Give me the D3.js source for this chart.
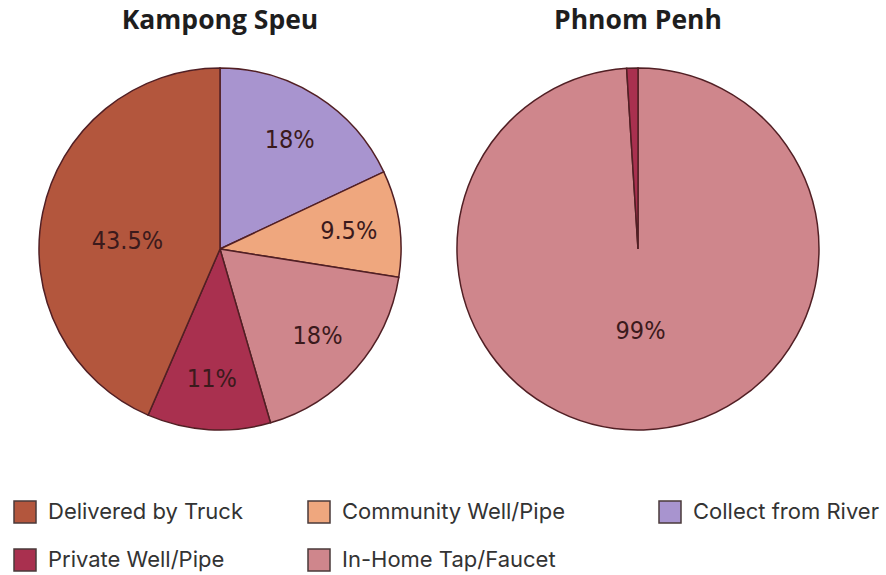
<!DOCTYPE html>
<html>
<head>
<meta charset="utf-8">
<script src="https://cdn.jsdelivr.net/npm/d3@7"></script>
<style>
  body { margin: 0; background: #fff; }
  svg { display: block; }
</style>
</head>
<body>
<div id="chart"></div>
<script>
// categories and values
var categories = ["Collect from River", "Community Well/Pipe", "In-Home Tap/Faucet", "Private Well/Pipe", "Delivered by Truck"];
var kampongSpeu = [18, 9.5, 18, 11, 43.5];
var phnomPenh = [0, 0, 99, 1, 0];
var places = ["Kampong Speu", "Phnom Penh"];
var legendOrder = ["Delivered by Truck", "Community Well/Pipe", "Collect from River", "Private Well/Pipe", "In-Home Tap/Faucet"];

var colour = d3.scaleOrdinal()
  .domain(categories)
  .range(["#a894cf", "#efa77e", "#cf868c", "#a9304f", "#b3563d"]);

var svg = d3.select("#chart").append("svg")
  .attr("width", 886)
  .attr("height", 575);

var radius = 181;
var centres = [[220, 249], [638, 249]];
var allData = [kampongSpeu, phnomPenh];

var pie = d3.pie().sort(null).value(function(d) { return d.v; });
var arc = d3.arc().innerRadius(0).outerRadius(radius);

allData.forEach(function(values, i) {
  var rows = categories.map(function(c, k) { return { cat: c, v: values[k] }; })
    .filter(function(d) { return d.v > 0; });
  var g = svg.append("g")
    .attr("transform", "translate(" + centres[i][0] + "," + centres[i][1] + ")");

  var arcs = pie(rows);
  g.selectAll("path").data(arcs).enter().append("path")
    .attr("d", arc)
    .attr("fill", function(d) { return colour(d.data.cat); })
    .attr("stroke", "#511f24")
    .attr("stroke-width", 1.5);

  // labels: small slices further out, big ones nearer the middle
  g.selectAll("text.lbl").data(arcs.filter(function(d) { return d.data.v >= 5; })).enter()
    .append("text")
    .attr("class", "lbl")
    .attr("transform", function(d) {
      var share = d.data.v / 100;
      var r = share > 0.4 ? (share > 0.9 ? 81 : 93) : 130;
      var a = (d.startAngle + d.endAngle) / 2;
      if (share > 0.4 && share < 0.9) a -= 0.108;
      return "translate(" + (r * Math.sin(a)) + "," + (-r * Math.cos(a)) + ")";
    })
    .attr("text-anchor", "middle")
    .attr("dy", "0.35em")
    .attr("font-family", "'DejaVu Sans Condensed', 'Liberation Sans Narrow', sans-serif")
    .attr("font-size", 25)
    .attr("fill", "#3b1a1c")
    .text(function(d) { return d.data.v + "%"; });

  svg.append("text")
    .attr("x", centres[i][0])
    .attr("y", 29)
    .attr("text-anchor", "middle")
    .attr("font-family", "'Open Sans', 'Noto Sans', sans-serif")
    .attr("font-weight", "bold")
    .attr("font-size", 26.5)
    .attr("fill", "#1e1e1e")
    .text(places[i]);
});

// legend
var legendX = [13, 307, 658];
var legendY = [500, 548];
var legend = svg.selectAll("g.leg").data(legendOrder).enter().append("g")
  .attr("class", "leg")
  .attr("transform", function(d, k) {
    return "translate(" + legendX[k % 3] + "," + legendY[Math.floor(k / 3)] + ")";
  });
legend.append("rect")
  .attr("x", 1).attr("y", 1)
  .attr("width", 22).attr("height", 22)
  .attr("fill", function(d) { return colour(d); })
  .attr("stroke", "#4a3a3a")
  .attr("stroke-width", 1.5);
legend.append("text")
  .attr("x", 35)
  .attr("y", 19)
  .attr("font-family", "Inter, 'Noto Sans', sans-serif")
  .attr("font-size", 22)
  .attr("fill", "#333")
  .text(function(d) { return d; });
</script>
</body>
</html>
